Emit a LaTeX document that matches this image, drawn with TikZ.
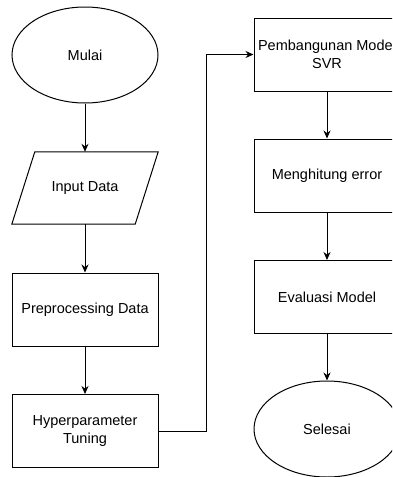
\documentclass[tikz,border=0pt]{standalone}
\usepackage{fontspec}
\setmainfont{Liberation Sans}
\usetikzlibrary{arrows.meta,calc,shapes.geometric}
\begin{document}
\begin{tikzpicture}[x=1pt,y=-1pt,
  every node/.style={font=\fontsize{14.5}{17.5}\selectfont, align=center, inner sep=0pt},
  box/.style={draw, line width=1pt, minimum width=146pt, minimum height=73pt},
  oval/.style={draw, ellipse, line width=1pt, minimum width=146pt, minimum height=96pt},
  ghost/.style={minimum width=146pt, minimum height=72pt},
  flow/.style={line width=1pt, -{Stealth[length=8pt,width=7pt]}}
]
\useasboundingbox (0,0) rectangle (392,477);
\clip (0,0) rectangle (392,477);
\fill[white] (0,0) rectangle (392,477);

\node[oval] (mulai) at (85,55) {Mulai};
\node[ghost] (input) at (85,188) {Input Data};
\draw[line width=1pt] (input.south west) -- ($(input.south east)+(-23,0)$) -- (input.north east) -- ($(input.north west)+(23,0)$) -- cycle;
\node[box] (prep) at (85,309.5) {Preprocessing Data};
\node[box] (hyper) at (85,431) {Hyperparameter\\Tuning};

\node[box] (svr) at (327,54.5) {Pembangunan Model\\SVR};
\node[box] (err) at (327,175.5) {Menghitung error};
\node[box] (eval) at (327,297) {Evaluasi Model};
\node[oval] (selesai) at (327,429) {Selesai};

\coordinate (c1) at (206,431);
\coordinate (c2) at (206,54.5);

\draw[flow] (mulai) -- (input);
\draw[flow] (input) -- (prep);
\draw[flow] (prep) -- (hyper);
\draw[flow] (hyper.east) -- (c1) -- (c2) -- (svr.west);
\draw[flow] (svr) -- (err);
\draw[flow] (err) -- (eval);
\draw[flow] (eval) -- (selesai);
\end{tikzpicture}
\end{document}
